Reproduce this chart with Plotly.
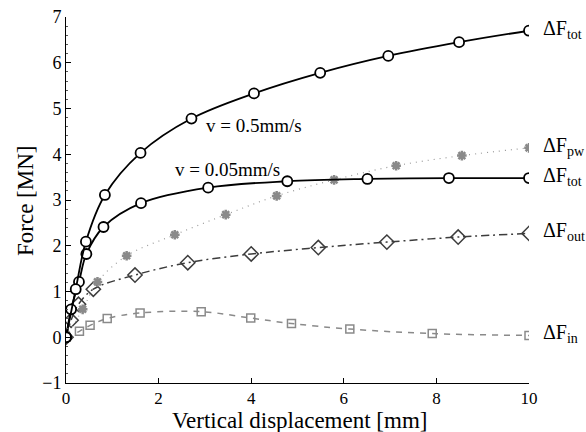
import plotly.graph_objects as go

# Total force, v = 0.5 mm/s
x_tot_fast = [0, 0.21, 0.43, 0.84, 1.61, 2.71, 4.06, 5.49, 6.96, 8.49, 10.0]
y_tot_fast = [0, 1.05, 2.09, 3.11, 4.03, 4.78, 5.33, 5.78, 6.15, 6.45, 6.70]

# Total force, v = 0.05 mm/s
x_tot_slow = [0, 0.11, 0.28, 0.44, 0.81, 1.62, 3.07, 4.78, 6.51, 8.27, 10.0]
y_tot_slow = [0, 0.61, 1.21, 1.82, 2.41, 2.93, 3.27, 3.41, 3.46, 3.48, 3.48]

# Pore water component
x_pw = [0, 0.36, 0.68, 1.31, 2.35, 3.45, 4.55, 5.79, 7.13, 8.55, 10.0]
y_pw = [0, 0.61, 1.21, 1.78, 2.24, 2.68, 3.09, 3.44, 3.75, 3.97, 4.14]

# Outer component
x_out = [0, 0.11, 0.27, 0.59, 1.49, 2.63, 4.0, 5.45, 6.93, 8.47, 10.0]
y_out = [0, 0.37, 0.72, 1.05, 1.36, 1.63, 1.82, 1.96, 2.08, 2.19, 2.27]

# Inner component
x_in = [0, 0.29, 0.52, 0.89, 1.6, 2.92, 3.99, 4.87, 6.13, 7.91, 10.0]
y_in = [0, 0.13, 0.26, 0.41, 0.53, 0.56, 0.42, 0.30, 0.18, 0.08, 0.04]

x_ticks = [0, 2, 4, 6, 8, 10]
y_ticks = [-1, 0, 1, 2, 3, 4, 5, 6, 7]

FONT = "'Liberation Serif', 'Times New Roman', Times, serif"

fig = go.Figure()

fig.add_trace(go.Scatter(
    x=x_in, y=y_in, mode="lines+markers", line_shape="spline",
    line=dict(color="#8a8a8a", width=1.5, dash="6px,6px"),
    marker=dict(symbol="square-open", size=8, color="#8a8a8a", line=dict(width=1.5))))

fig.add_trace(go.Scatter(
    x=x_out, y=y_out, mode="lines+markers", line_shape="spline",
    line=dict(color="#3c3c3c", width=1.5, dash="8px,4px,2px,4px"),
    marker=dict(symbol="diamond-open", size=11, color="#3c3c3c", line=dict(width=1.5))))

fig.add_trace(go.Scatter(
    x=x_pw, y=y_pw, mode="lines+markers", line_shape="spline",
    line=dict(color="#9a9a9a", width=1.2, dash="1px,5px"),
    marker=dict(symbol="asterisk-open", size=8, color="#8a8a8a", line=dict(width=2.5, color="#8a8a8a"))))

for xs, ys in [(x_tot_slow, y_tot_slow), (x_tot_fast, y_tot_fast)]:
    fig.add_trace(go.Scatter(
        x=xs, y=ys, mode="lines+markers", line_shape="spline",
        line=dict(color="black", width=1.8),
        marker=dict(symbol="circle", size=10, color="white", line=dict(width=1.8, color="black"))))

# Right-hand curve labels
labels = [(y_tot_fast[-1], "tot"), (y_pw[-1], "pw"), (y_tot_slow[-1], "tot"),
          (y_out[-1], "out"), (y_in[-1], "in")]
for yv, sub in labels:
    fig.add_annotation(
        x=10, y=yv, xref="x", yref="y", xanchor="left", yanchor="top",
        xshift=12, yshift=16, showarrow=False,
        text=f"ΔF<sub>{sub}</sub>",
        font=dict(family=FONT, size=20, color="black"))

fig.add_annotation(x=2.98, y=4.63, xref="x", yref="y", xanchor="left", yanchor="middle",
                   showarrow=False, text="v = 0.5mm/s",
                   font=dict(family=FONT, size=19, color="black"))
fig.add_annotation(x=2.31, y=3.66, xref="x", yref="y", xanchor="left", yanchor="middle",
                   showarrow=False, text="v = 0.05mm/s",
                   font=dict(family=FONT, size=19, color="black"))

# Axis titles
fig.add_annotation(x=0.5, y=0, xref="paper", yref="paper", xanchor="center", yanchor="middle",
                   xshift=2, yshift=-37, showarrow=False,
                   text="Vertical displacement [mm]",
                   font=dict(family=FONT, size=23, color="black"))
fig.add_annotation(x=0, y=0.5, xref="paper", yref="paper", xanchor="center", yanchor="middle",
                   xshift=-41, yshift=-1, showarrow=False, textangle=-90,
                   text="Force [MN]",
                   font=dict(family=FONT, size=23, color="black"))

fig.update_layout(
    width=586, height=432,
    margin=dict(l=66, r=57, t=17, b=49),
    paper_bgcolor="white", plot_bgcolor="white",
    showlegend=False,
    font=dict(family=FONT, size=17, color="black"),
    xaxis=dict(
        range=[0, 10], tickvals=x_ticks, ticks="inside", ticklen=5, tickcolor="black",
        showline=True, linecolor="black", linewidth=1, showgrid=False, zeroline=False,
        automargin=False, tickfont=dict(family=FONT, size=17)),
    yaxis=dict(
        range=[-1, 7], tickvals=y_ticks, ticks="inside", ticklen=5, tickcolor="black",
        showline=True, linecolor="black", linewidth=1, showgrid=False, zeroline=False,
        automargin=False, tickfont=dict(family=FONT, size=18),
        minor=dict(dtick=0.2, ticks="inside", ticklen=2, tickcolor="#555", showgrid=False)),
)

fig.write_html("out.html")
